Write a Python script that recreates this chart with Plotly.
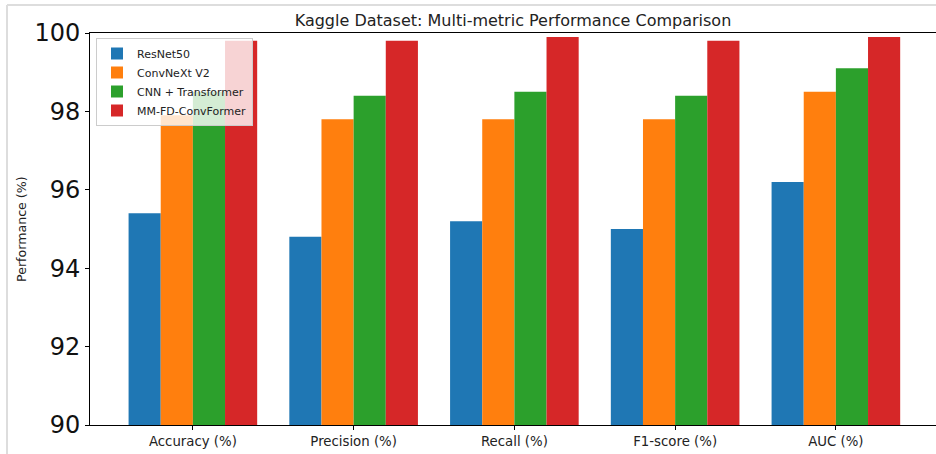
import plotly.graph_objects as go

categories = ["Accuracy (%)", "Precision (%)", "Recall (%)", "F1-score (%)", "AUC (%)"]
models = ["ResNet50", "ConvNeXt V2", "CNN + Transformer", "MM-FD-ConvFormer"]
resnet50 = [95.4, 94.8, 95.2, 95.0, 96.2]
convnext_v2 = [97.9, 97.8, 97.8, 97.8, 98.5]
cnn_transformer = [98.5, 98.4, 98.5, 98.4, 99.1]
mm_fd_convformer = [99.8, 99.8, 99.9, 99.8, 99.9]
colors = ["#1f77b4", "#ff7f0e", "#2ca02c", "#d62728"]
y_ticks = [90, 92, 94, 96, 98, 100]

W, H = 936, 454
L, T, B, R = 90, 33, 29, 0
pw = W - L - R
ph = H - T - B

def px_x(X):
    return (X - L) / pw

def px_y(Y):
    return (H - B - Y) / ph

fig = go.Figure()
for name, vals, c in zip(models, [resnet50, convnext_v2, cnn_transformer, mm_fd_convformer], colors):
    fig.add_trace(go.Bar(name=name, x=list(range(len(categories))), y=vals,
                         marker=dict(color=c, line=dict(width=0))))

fig.update_layout(
    width=W, height=H,
    margin=dict(l=L, r=R, t=T, b=B),
    paper_bgcolor="white", plot_bgcolor="white",
    barmode="group", bargap=0.2, bargroupgap=0,
    font=dict(family="DejaVu Sans", color="#222"),
    title=dict(text="Kaggle Dataset: Multi-metric Performance Comparison",
               x=px_x(513), xref="paper", xanchor="center",
               y=1 - 20 / H, yanchor="middle",
               font=dict(size=16, color="#222")),
    legend=dict(x=px_x(96), y=px_y(38), xanchor="left", yanchor="top",
                bgcolor="rgba(255,255,255,0.8)", bordercolor="#cccccc", borderwidth=1,
                font=dict(size=11, color="#222"), tracegroupgap=0),
    showlegend=True,
)
fig.update_xaxes(
    range=[-0.64, -0.64 + pw / 160.75],
    tickmode="array", tickvals=list(range(len(categories))), ticktext=categories,
    ticks="outside", ticklen=4, tickcolor="black", tickfont=dict(size=13.3, color="#222"),
    showline=True, linecolor="black", linewidth=1, mirror=True,
    showgrid=False, zeroline=False,
)
fig.update_yaxes(
    range=[90, 100], tickmode="array", tickvals=y_ticks,
    ticks="outside", ticklen=4, tickcolor="black", tickfont=dict(size=24, color="#111"),
    showline=True, linecolor="black", linewidth=1,
    showgrid=False, zeroline=False,
)
fig.add_annotation(text="Performance (%)", xref="paper", yref="paper",
                   x=px_x(21), y=0.5, textangle=-90, showarrow=False,
                   xanchor="center", yanchor="middle", font=dict(size=12.6, color="#222"))
# light frame
fig.add_shape(type="line", xref="paper", yref="paper", x0=px_x(7), x1=px_x(W + 5),
              y0=px_y(5), y1=px_y(5), line=dict(color="#dddddd", width=2))
fig.add_shape(type="line", xref="paper", yref="paper", x0=px_x(7), x1=px_x(7),
              y0=px_y(5), y1=px_y(H + 5), line=dict(color="#dddddd", width=2))

fig.write_html("out.html", config={"displayModeBar": False},
               post_script="document.body.style.margin='0px';document.body.style.overflow='hidden';")
